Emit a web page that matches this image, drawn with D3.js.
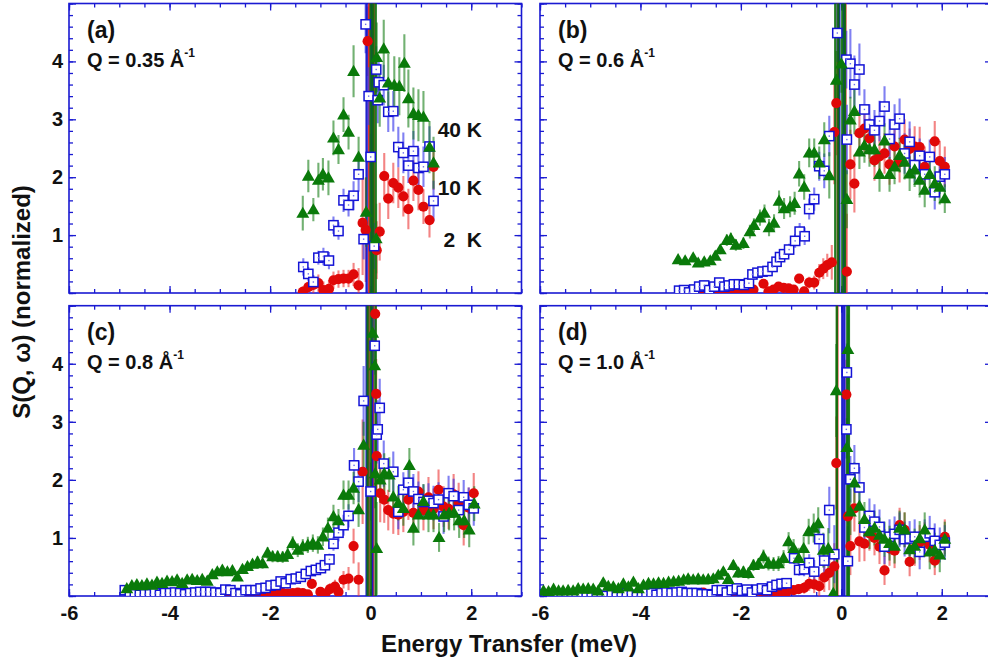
<!DOCTYPE html>
<html>
<head>
<meta charset="utf-8">
<script src="https://cdn.jsdelivr.net/npm/d3@7"></script>
<style>
  body { margin: 0; background: #fff; }
  svg text { font-family: "Liberation Sans", Arial, Helvetica, sans-serif; font-weight: bold; fill: #111; }
</style>
</head>
<body>
<svg id="chart" width="988" height="665"></svg>
<script>

// ---- data: [energy (meV), S(Q,w), error] ----
// points with S > 5 are the elastic line, off the top of the panel

const a_2K = [[-1.35,0.02,0.1],[-1.24,0.10,0.1],[-1.14,0.14,0.15],[-1.04,0.17,0.15],[-0.94,0.05,0.15],[-0.83,0.07,0.15],
  [-0.74,0.22,0.15],[-0.64,0.24,0.15],[-0.54,0.25,0.15],[-0.44,0.25,0.15],[-0.34,0.32,0.2],[-0.24,0.13,0.3],
  [-0.16,1.21,0.9],[-0.10,1.09,0.9],[-0.06,4.35,0.6],[-0.03,12,12.5],[0.06,12,12.5],[0.12,0.74,0.5],[0.18,1.06,0.5],
  [0.27,2.02,0.4],[0.35,1.63,0.35],[0.45,1.90,0.35],[0.55,1.82,0.35],[0.65,1.67,0.35],[0.75,1.45,0.35],
  [0.85,1.94,0.35],[0.95,1.78,0.35],[1.05,1.49,0.3],[1.17,1.26,0.3],[1.25,2.18,0.4]];
const a_10K = [[-1.34,0.45,0.15],[-1.24,0.33,0.12],[-1.14,0.19,0.12],[-1.04,0.61,0.12],[-0.94,0.63,0.15],[-0.83,0.56,0.15],
  [-0.74,1.17,0.15],[-0.64,1.07,0.15],[-0.54,1.60,0.2],[-0.44,1.52,0.2],[-0.34,1.68,0.25],[-0.24,2.05,0.3],
  [-0.14,0.93,0.35],[-0.10,4.64,0.5],[-0.08,12,12.5],[-0.04,3.40,0.5],[0.00,2.35,0.4],[0.02,12,12.5],[0.07,0.81,0.4],
  [0.11,3.86,0.4],[0.14,3.33,0.4],[0.16,3.64,0.4],[0.26,3.59,0.35],[0.35,3.13,0.35],[0.45,3.14,0.35],
  [0.55,2.52,0.35],[0.65,2.42,0.35],[0.75,2.20,0.3],[0.85,2.45,0.35],[0.95,2.16,0.35],[1.05,2.18,0.35],
  [1.17,2.53,0.35],[1.25,1.59,0.35]];
const a_40K = [[-1.35,1.38,0.3],[-1.24,2.02,0.28],[-1.14,1.44,0.2],[-1.04,1.95,0.3],[-0.95,2.05,0.28],[-0.84,1.99,0.3],
  [-0.74,2.68,0.3],[-0.64,2.48,0.25],[-0.54,3.08,0.3],[-0.44,2.78,0.3],[-0.34,3.83,0.45],[-0.24,2.35,0.35],
  [-0.09,1.40,0.6],[0.00,12,12.5],[0.05,12,12.5],[0.10,12,12.5],[0.11,0.94,0.6],[0.12,4.07,0.6],[0.18,3.37,0.5],
  [0.26,4.22,0.5],[0.35,3.63,0.5],[0.47,3.59,0.5],[0.57,3.57,0.5],[0.67,3.97,0.5],[0.75,3.36,0.5],
  [0.85,3.10,0.45],[0.95,3.07,0.45],[1.05,3.04,0.45],[1.17,2.52,0.45],[1.25,2.25,0.45]];

const b_2K = [[-2.81,0.02,0.03],[-2.68,0.01,0.03],[-2.55,0.02,0.03],[-2.41,0.02,0.03],[-2.28,0.01,0.03],[-2.15,0.02,0.03],
  [-2.02,0.02,0.03],[-1.88,0.03,0.04],[-1.75,0.06,0.04],[-1.55,0.16,0.05],[-1.45,0.03,0.05],[-1.35,0.06,0.05],
  [-1.25,0.11,0.05],[-1.15,0.09,0.05],[-1.05,0.08,0.05],[-0.95,0.06,0.06],[-0.84,0.25,0.08],[-0.74,0.03,0.08],
  [-0.64,0.18,0.1],[-0.54,0.18,0.12],[-0.44,0.35,0.15],[-0.36,0.42,0.18],[-0.28,0.48,0.2],[-0.19,0.53,0.3],
  [-0.14,2.78,0.9],[-0.10,3.28,0.9],[-0.07,12,12.5],[0.08,12,12.5],[0.11,0.37,1.0],[0.18,2.22,0.6],[0.26,1.89,0.5],
  [0.36,2.76,0.4],[0.46,2.84,0.4],[0.56,2.67,0.35],[0.66,2.29,0.35],[0.76,2.36,0.35],[0.86,2.41,0.35],
  [0.96,2.22,0.35],[1.06,2.53,0.35],[1.16,2.26,0.35],[1.26,2.65,0.35],[1.36,2.49,0.35],[1.46,2.53,0.35],
  [1.56,2.52,0.35],[1.66,2.18,0.35],[1.86,2.62,0.35],[1.96,2.28,0.35],[2.06,2.18,0.35]];
const b_10K = [[-3.23,0.04,0.04],[-3.13,0.05,0.04],[-3.03,0.01,0.04],[-2.93,0.06,0.04],[-2.83,0.11,0.04],[-2.73,0.13,0.04],
  [-2.63,0.05,0.04],[-2.53,0.11,0.04],[-2.43,0.18,0.05],[-2.33,0.11,0.05],[-2.24,0.13,0.05],[-2.14,0.15,0.05],
  [-2.04,0.15,0.05],[-1.94,0.14,0.05],[-1.84,0.17,0.05],[-1.77,0.32,0.06],[-1.67,0.35,0.06],[-1.57,0.37,0.06],
  [-1.47,0.38,0.07],[-1.37,0.45,0.07],[-1.29,0.54,0.08],[-1.22,0.62,0.08],[-1.14,0.67,0.09],[-1.04,0.75,0.1],
  [-0.92,0.90,0.12],[-0.83,1.06,0.15],[-0.73,0.98,0.15],[-0.64,1.45,0.18],[-0.54,1.62,0.2],[-0.44,2.19,0.25],
  [-0.34,2.11,0.3],[-0.24,2.71,0.35],[-0.08,4.49,0.5],[-0.04,12,12.5],[0.05,12,12.5],[0.10,4.03,0.5],[0.11,2.65,0.6],
  [0.18,3.96,0.6],[0.26,3.60,0.5],[0.36,3.86,0.45],[0.46,3.17,0.35],[0.56,2.91,0.35],[0.66,2.81,0.35],
  [0.76,2.97,0.35],[0.86,3.22,0.35],[0.96,2.66,0.35],[1.06,2.91,0.35],[1.16,3.01,0.35],[1.26,2.41,0.35],
  [1.36,2.61,0.35],[1.46,2.21,0.3],[1.56,2.37,0.3],[1.66,2.05,0.3],[1.76,2.35,0.3],[1.86,1.74,0.3],
  [1.96,2.01,0.3],[2.06,2.05,0.3]];
const b_40K = [[-3.25,0.58,0.05],[-3.11,0.56,0.05],[-2.95,0.61,0.06],[-2.85,0.52,0.05],[-2.73,0.54,0.06],[-2.61,0.56,0.06],
  [-2.51,0.64,0.07],[-2.41,0.75,0.08],[-2.28,0.91,0.1],[-2.20,0.94,0.1],[-2.10,0.83,0.1],[-1.95,0.86,0.1],
  [-1.82,1.06,0.12],[-1.74,1.17,0.12],[-1.62,1.30,0.14],[-1.53,1.38,0.15],[-1.44,1.13,0.15],[-1.34,1.21,0.15],
  [-1.24,1.59,0.18],[-1.14,1.46,0.18],[-1.02,1.49,0.18],[-0.93,1.55,0.2],[-0.84,2.06,0.22],[-0.74,1.83,0.22],
  [-0.64,2.42,0.25],[-0.54,2.42,0.25],[-0.44,2.25,0.28],[-0.34,2.65,0.3],[-0.24,2.03,0.4],[-0.12,12,12.5],
  [-0.10,3.68,0.5],[-0.06,12,12.5],[0.00,3.96,0.5],[0.02,12,12.5],[0.07,12,12.5],[0.11,1.62,0.5],[0.18,2.99,0.4],
  [0.26,3.14,0.4],[0.36,2.44,0.3],[0.46,2.55,0.3],[0.56,2.48,0.3],[0.66,2.48,0.3],[0.76,2.05,0.3],
  [0.86,2.63,0.3],[0.96,2.05,0.3],[1.06,2.18,0.3],[1.16,2.38,0.3],[1.26,2.26,0.3],[1.36,2.06,0.3],
  [1.46,2.13,0.3],[1.56,1.95,0.3],[1.66,1.78,0.3],[1.76,2.05,0.3],[1.86,1.89,0.3],[1.96,1.83,0.3],[2.06,1.63,0.25]];

const c_2K = [[-3.35,0.01,0.03],[-3.25,0.02,0.03],[-3.15,0.01,0.03],[-3.05,0.02,0.03],[-2.95,0.01,0.03],[-2.85,0.02,0.03],
  [-2.75,0.03,0.03],[-2.65,0.01,0.03],[-2.55,0.02,0.03],[-2.45,0.03,0.04],[-2.35,0.01,0.04],[-2.25,0.02,0.04],
  [-2.15,0.03,0.04],[-2.05,0.02,0.04],[-1.95,0.04,0.04],[-1.85,0.03,0.05],[-1.75,0.05,0.05],[-1.65,0.04,0.05],
  [-1.55,0.05,0.05],[-1.45,0.06,0.05],[-1.35,0.05,0.06],[-1.25,0.03,0.06],[-1.17,0.21,0.08],[-1.00,0.07,0.08],
  [-0.91,0.03,0.1],[-0.81,0.12,0.1],[-0.71,0.16,0.12],[-0.64,0.07,0.12],[-0.54,0.28,0.15],[-0.44,0.30,0.2],
  [-0.34,0.86,0.3],[-0.24,0.28,0.3],[-0.16,2.14,0.9],[-0.04,12,12.5],[0.05,12,12.5],[0.09,4.86,0.6],[0.11,3.48,0.6],
  [0.12,2.41,0.6],[0.19,1.77,0.5],[0.27,1.66,0.4],[0.35,1.48,0.35],[0.45,1.42,0.35],[0.55,1.40,0.35],
  [0.65,1.45,0.35],[0.75,1.66,0.35],[0.85,1.43,0.35],[0.95,1.80,0.35],[1.05,1.48,0.35],[1.15,1.70,0.35],
  [1.25,1.50,0.35],[1.35,1.83,0.35],[1.45,1.54,0.35],[1.55,1.50,0.35],[1.65,1.75,0.35],[1.75,1.60,0.35],
  [1.85,1.22,0.35],[1.95,1.52,0.35],[2.05,1.77,0.35]];
const c_10K = [[-4.89,0.10,0.03],[-4.79,0.07,0.03],[-4.69,0.03,0.03],[-4.59,0.02,0.03],[-4.49,0.03,0.03],[-4.39,0.03,0.03],
  [-4.29,0.05,0.03],[-4.19,0.02,0.03],[-4.09,0.05,0.03],[-3.99,0.05,0.03],[-3.89,0.06,0.03],[-3.79,0.05,0.03],
  [-3.69,0.03,0.03],[-3.59,0.05,0.03],[-3.49,0.06,0.03],[-3.39,0.07,0.03],[-3.29,0.07,0.03],[-3.19,0.07,0.03],
  [-3.09,0.06,0.03],[-2.99,0.05,0.03],[-2.89,0.11,0.04],[-2.79,0.10,0.04],[-2.69,0.05,0.04],[-2.59,0.03,0.04],
  [-2.49,0.10,0.04],[-2.39,0.10,0.04],[-2.29,0.10,0.04],[-2.19,0.13,0.04],[-2.09,0.14,0.05],[-1.99,0.18,0.05],
  [-1.89,0.19,0.05],[-1.79,0.25,0.05],[-1.69,0.22,0.05],[-1.59,0.29,0.06],[-1.49,0.30,0.06],[-1.39,0.33,0.06],
  [-1.29,0.38,0.07],[-1.19,0.43,0.07],[-1.09,0.45,0.08],[-0.99,0.48,0.08],[-0.91,0.53,0.09],[-0.82,0.63,0.1],
  [-0.74,0.90,0.12],[-0.64,1.09,0.15],[-0.54,1.22,0.18],[-0.44,1.38,0.2],[-0.33,2.25,0.3],[-0.24,1.97,0.35],
  [-0.14,3.36,0.6],[-0.08,12,12.5],[0.00,1.80,0.5],[0.03,12,12.5],[0.08,4.31,0.5],[0.12,2.78,0.5],[0.14,2.87,0.5],
  [0.18,3.24,0.5],[0.26,2.28,0.4],[0.45,2.14,0.35],[0.55,1.45,0.3],[0.65,1.83,0.3],[0.75,1.95,0.3],
  [0.85,1.80,0.3],[0.95,1.67,0.3],[1.05,1.62,0.3],[1.15,1.64,0.3],[1.25,1.60,0.3],[1.35,1.66,0.3],
  [1.45,1.37,0.3],[1.55,1.77,0.3],[1.65,1.72,0.3],[1.75,1.48,0.3],[1.85,1.70,0.3],[1.95,1.57,0.3],[2.05,1.51,0.3]];
const c_40K = [[-4.85,0.13,0.05],[-4.75,0.18,0.05],[-4.65,0.20,0.05],[-4.55,0.18,0.05],[-4.45,0.21,0.05],[-4.35,0.19,0.05],
  [-4.25,0.24,0.05],[-4.15,0.22,0.05],[-4.05,0.26,0.05],[-3.95,0.25,0.05],[-3.85,0.28,0.05],[-3.75,0.22,0.05],
  [-3.65,0.28,0.05],[-3.55,0.29,0.05],[-3.45,0.27,0.05],[-3.35,0.29,0.06],[-3.25,0.26,0.06],[-3.15,0.37,0.06],
  [-3.05,0.42,0.06],[-2.95,0.45,0.07],[-2.85,0.42,0.07],[-2.75,0.44,0.07],[-2.65,0.33,0.07],[-2.55,0.46,0.08],
  [-2.45,0.51,0.08],[-2.35,0.55,0.08],[-2.25,0.59,0.09],[-2.15,0.56,0.09],[-2.05,0.74,0.1],[-1.95,0.68,0.1],
  [-1.85,0.68,0.1],[-1.75,0.67,0.1],[-1.65,0.72,0.11],[-1.55,0.91,0.12],[-1.45,0.79,0.12],[-1.35,0.85,0.13],
  [-1.25,0.88,0.14],[-1.15,0.91,0.15],[-1.05,0.88,0.15],[-0.95,1.02,0.16],[-0.85,1.17,0.18],[-0.74,1.37,0.2],
  [-0.64,1.30,0.2],[-0.54,1.74,0.25],[-0.44,1.74,0.25],[-0.34,1.86,0.28],[-0.24,1.49,0.3],[-0.14,2.60,0.4],
  [-0.06,12,12.5],[0.00,12,12.5],[0.04,4.53,0.5],[0.08,3.97,0.5],[0.09,2.11,0.6],[0.10,12,12.5],[0.12,0.82,0.8],
  [0.19,2.00,0.4],[0.27,2.11,0.35],[0.37,2.09,0.3],[0.45,1.71,0.3],[0.55,1.60,0.3],[0.65,1.51,0.3],
  [0.77,2.25,0.3],[0.85,1.17,0.3],[0.95,1.40,0.3],[1.05,1.63,0.3],[1.15,1.40,0.3],[1.25,1.40,0.3],
  [1.36,1.01,0.25],[1.46,1.40,0.3],[1.56,1.43,0.3],[1.66,1.43,0.3],[1.76,1.30,0.3],[1.86,1.30,0.3],
  [1.96,1.14,0.3],[2.06,1.59,0.3]];

const d_2K = [[-5.85,0.00,0.03],[-5.55,0.01,0.03],[-5.25,0.00,0.03],[-4.95,0.01,0.03],[-4.65,0.00,0.03],[-4.35,0.01,0.03],
  [-4.05,0.01,0.03],[-3.75,0.02,0.03],[-3.45,0.01,0.03],[-3.15,0.02,0.03],[-2.95,0.02,0.03],[-2.75,0.06,0.04],
  [-2.55,0.01,0.04],[-2.35,0.02,0.04],[-2.15,0.02,0.04],[-1.95,0.03,0.04],[-1.75,0.02,0.04],[-1.55,0.04,0.05],
  [-1.35,0.03,0.05],[-1.25,0.05,0.05],[-1.15,0.04,0.05],[-1.09,0.07,0.06],[-0.95,0.10,0.07],[-0.85,0.12,0.08],
  [-0.74,0.14,0.1],[-0.64,0.21,0.12],[-0.54,0.20,0.15],[-0.44,0.17,0.2],[-0.34,0.32,0.25],[-0.24,0.40,0.3],
  [-0.14,0.51,0.4],[-0.10,2.29,0.8],[-0.08,12,12.5],[0.10,3.47,0.6],[0.13,1.37,0.6],[0.18,0.86,0.5],
  [0.26,1.51,0.4],[0.36,0.94,0.35],[0.46,0.90,0.3],[0.56,1.08,0.3],[0.66,1.00,0.3],[0.76,0.85,0.3],
  [0.86,0.44,0.25],[0.96,0.82,0.3],[1.06,0.78,0.3],[1.16,1.22,0.3],[1.26,1.14,0.3],[1.36,0.59,0.25],
  [1.46,0.82,0.3],[1.56,0.92,0.3],[1.66,0.97,0.3],[1.76,0.88,0.3],[1.86,0.61,0.25],[2.06,1.02,0.3]];
const d_10K = [[-5.87,0.02,0.03],[-5.77,0.00,0.03],[-5.67,0.00,0.03],[-5.57,0.02,0.03],[-5.47,0.02,0.03],[-5.37,0.00,0.03],
  [-5.27,0.00,0.03],[-5.17,0.00,0.03],[-5.07,0.02,0.03],[-4.97,0.02,0.03],[-4.87,0.02,0.03],[-4.77,0.00,0.03],
  [-4.67,0.00,0.03],[-4.57,0.02,0.03],[-4.47,0.02,0.03],[-4.37,0.00,0.03],[-4.27,0.05,0.03],[-4.17,0.02,0.03],
  [-4.07,0.00,0.03],[-3.97,0.02,0.03],[-3.88,0.05,0.03],[-3.78,0.05,0.03],[-3.68,0.02,0.03],[-3.58,0.05,0.03],
  [-3.48,0.06,0.03],[-3.38,0.05,0.03],[-3.28,0.06,0.03],[-3.18,0.07,0.03],[-3.08,0.05,0.03],[-2.98,0.05,0.03],
  [-2.88,0.05,0.03],[-2.78,0.03,0.03],[-2.68,0.03,0.03],[-2.58,0.02,0.03],[-2.48,0.10,0.04],[-2.38,0.10,0.04],
  [-2.28,0.06,0.04],[-2.18,0.10,0.04],[-2.08,0.13,0.04],[-1.98,0.09,0.04],[-1.88,0.11,0.04],[-1.78,0.06,0.04],
  [-1.68,0.11,0.05],[-1.58,0.13,0.05],[-1.48,0.10,0.05],[-1.38,0.16,0.05],[-1.29,0.19,0.06],[-1.19,0.21,0.06],
  [-1.09,0.22,0.07],[-0.94,0.65,0.1],[-0.84,0.45,0.1],[-0.74,0.46,0.12],[-0.64,0.57,0.15],[-0.54,0.42,0.2],
  [-0.44,0.98,0.3],[-0.34,0.61,0.3],[-0.24,1.48,0.4],[-0.14,0.72,0.5],[0.02,12,12.5],[0.06,12,12.5],
  [0.10,2.87,0.5],[0.11,3.85,0.5],[0.13,0.60,0.6],[0.18,2.01,0.4],[0.26,2.20,0.4],[0.36,1.87,0.35],
  [0.46,1.18,0.3],[0.56,1.38,0.3],[0.66,1.28,0.3],[0.76,1.19,0.3],[0.86,0.85,0.3],[0.96,1.02,0.3],
  [1.06,1.07,0.3],[1.16,1.14,0.3],[1.26,0.98,0.3],[1.36,0.99,0.3],[1.46,1.02,0.3],[1.56,0.76,0.3],
  [1.66,1.02,0.3],[1.76,1.08,0.3],[1.86,0.95,0.3],[1.96,0.88,0.3],[2.06,0.92,0.3]];
const d_40K = [[-5.93,0.09,0.04],[-5.83,0.08,0.04],[-5.73,0.12,0.04],[-5.63,0.09,0.04],[-5.54,0.09,0.04],[-5.44,0.10,0.04],
  [-5.34,0.09,0.04],[-5.24,0.13,0.04],[-5.14,0.12,0.04],[-5.04,0.13,0.04],[-4.94,0.12,0.04],[-4.84,0.09,0.05],
  [-4.74,0.23,0.05],[-4.64,0.17,0.05],[-4.54,0.16,0.05],[-4.44,0.13,0.05],[-4.34,0.21,0.05],[-4.24,0.16,0.05],
  [-4.14,0.24,0.05],[-4.04,0.13,0.05],[-3.94,0.19,0.05],[-3.84,0.22,0.05],[-3.74,0.21,0.05],[-3.64,0.23,0.05],
  [-3.54,0.22,0.05],[-3.44,0.24,0.05],[-3.34,0.25,0.05],[-3.24,0.26,0.06],[-3.14,0.28,0.06],[-3.05,0.30,0.06],
  [-2.95,0.28,0.06],[-2.85,0.30,0.06],[-2.75,0.28,0.06],[-2.65,0.29,0.07],[-2.55,0.30,0.07],[-2.45,0.36,0.07],
  [-2.35,0.42,0.08],[-2.25,0.29,0.08],[-2.15,0.53,0.09],[-2.05,0.40,0.09],[-1.95,0.42,0.09],[-1.85,0.39,0.1],
  [-1.75,0.53,0.1],[-1.65,0.55,0.1],[-1.55,0.68,0.12],[-1.45,0.56,0.12],[-1.35,0.55,0.12],[-1.25,0.56,0.13],
  [-1.15,0.65,0.14],[-1.05,0.94,0.16],[-0.95,0.82,0.16],[-0.85,0.65,0.18],[-0.75,0.82,0.2],[-0.65,1.11,0.22],
  [-0.55,1.17,0.25],[-0.46,1.25,0.28],[-0.36,0.79,0.3],[-0.26,0.82,0.35],[-0.16,0.05,0.5],[-0.10,3.54,0.8],
  [-0.09,12,12.5],[0.11,2.56,0.5],[0.12,12,12.5],[0.13,4.25,0.6],[0.15,12,12.5],[0.18,1.45,0.4],[0.26,1.95,0.35],
  [0.36,1.55,0.3],[0.46,1.32,0.3],[0.56,1.11,0.3],[0.66,1.17,0.3],[0.76,1.05,0.3],[0.86,0.98,0.3],
  [0.96,0.91,0.3],[1.06,0.86,0.3],[1.16,1.17,0.3],[1.26,1.14,0.3],[1.36,0.80,0.3],[1.46,0.86,0.3],
  [1.56,0.99,0.3],[1.66,1.14,0.3],[1.76,0.76,0.3],[1.86,0.79,0.3],[1.96,0.71,0.3],[2.06,0.98,0.3]];

const panelTags = ['(a)', '(b)', '(c)', '(d)'];
const qValues = ['0.35', '0.6', '0.8', '1.0'];
const tempLabels = ['40 K', '10 K', '2  K'];
const tempLevels = [2.7, 1.7, 0.8];
const xTickLabels = [-6, -4, -2, 0, 2];
const yTickLabels = [1, 2, 3, 4];

// ---- layout ----
const frameBlue = '#1a1ad2';
const svg = d3.select('#chart');

const panels = [
  { tag: panelTags[0], q: qValues[0], left: 69,  right: 521.5, top: 3.5,   bottom: 293, series: [a_2K, a_10K, a_40K], xLab: false, yLab: true },
  { tag: panelTags[1], q: qValues[1], left: 540, right: 992,   top: 3.5,   bottom: 293, series: [b_2K, b_10K, b_40K], xLab: false, yLab: false },
  { tag: panelTags[2], q: qValues[2], left: 69,  right: 521.5, top: 305.7, bottom: 596, series: [c_2K, c_10K, c_40K], xLab: true,  yLab: true },
  { tag: panelTags[3], q: qValues[3], left: 540, right: 992,   top: 305.7, bottom: 596, series: [d_2K, d_10K, d_40K], xLab: true,  yLab: false }
];

// order: 2 K, 10 K, 40 K
const styles = [
  { kind: 'circle',   color: '#e00808', err: 'rgba(235,50,50,0.6)',  line: 'rgba(220,20,20,0.85)' },
  { kind: 'square',   color: '#1414d6', err: 'rgba(60,60,235,0.65)', line: 'rgba(20,20,200,0.95)' },
  { kind: 'triangle', color: '#0a7a0a', err: 'rgba(20,125,20,0.6)',  line: 'rgba(10,110,10,0.9)' }
];

function styleAxis(g, size) {
  g.select('.domain').remove();
  g.selectAll('line').attr('stroke', frameBlue).attr('stroke-width', 1.3);
  g.selectAll('text').attr('font-size', size).attr('font-family', null).attr('fill', '#111');
  g.attr('font-family', null).attr('font-size', null);
}

panels.forEach((p, i) => {
  const x = d3.scaleLinear().domain([-6, 3]).range([p.left, p.right]);
  const y = d3.scaleLinear().domain([0, 5]).range([p.bottom, p.top]);

  const g = svg.append('g').attr('class', 'panel');

  const clipId = 'clip' + i;
  svg.append('clipPath').attr('id', clipId)
    .append('rect')
      .attr('x', p.left).attr('y', p.top)
      .attr('width', p.right - p.left).attr('height', p.bottom - p.top);

  const xMinor = d3.range(-6, 3.001, 0.5);
  const yMinor = d3.range(0, 5.001, 0.2);
  const yMajor = [0, 1, 2, 3, 4, 5];

  // minor ticks, all four sides (inward)
  g.append('g').attr('transform', `translate(0,${p.bottom})`)
    .call(d3.axisBottom(x).tickValues(xMinor).tickSize(-4).tickFormat(''))
    .call(a => styleAxis(a, 20));
  g.append('g').attr('transform', `translate(0,${p.top})`)
    .call(d3.axisTop(x).tickValues(xMinor).tickSize(-4).tickFormat(''))
    .call(a => styleAxis(a, 20));
  g.append('g').attr('transform', `translate(${p.left},0)`)
    .call(d3.axisLeft(y).tickValues(yMinor).tickSize(-4).tickFormat(''))
    .call(a => styleAxis(a, 20));
  g.append('g').attr('transform', `translate(${p.right},0)`)
    .call(d3.axisRight(y).tickValues(yMinor).tickSize(-4).tickFormat(''))
    .call(a => styleAxis(a, 20));

  // major ticks
  g.append('g').attr('transform', `translate(0,${p.bottom})`)
    .call(d3.axisBottom(x).tickValues(xTickLabels).tickSize(-7).tickPadding(10)
      .tickFormat(d => p.xLab ? String(d) : ''))
    .call(a => styleAxis(a, 20));
  g.append('g').attr('transform', `translate(0,${p.top})`)
    .call(d3.axisTop(x).tickValues(xTickLabels).tickSize(-7).tickFormat(''))
    .call(a => styleAxis(a, 20));
  g.append('g').attr('transform', `translate(${p.left},0)`)
    .call(d3.axisLeft(y).tickValues(yMajor).tickSize(-7).tickPadding(6)
      .tickFormat(d => (p.yLab && yTickLabels.includes(d)) ? String(d) : ''))
    .call(a => styleAxis(a, 20));
  g.append('g').attr('transform', `translate(${p.right},0)`)
    .call(d3.axisRight(y).tickValues(yMajor).tickSize(-7).tickFormat(''))
    .call(a => styleAxis(a, 20));

  // frame
  g.append('rect')
    .attr('x', p.left).attr('y', p.top)
    .attr('width', p.right - p.left).attr('height', p.bottom - p.top)
    .attr('fill', 'none').attr('stroke', frameBlue).attr('stroke-width', 1.6);

  const plot = g.append('g').attr('clip-path', `url(#${clipId})`);

  // error bars first; the off-scale elastic points draw as solid vertical lines
  p.series.forEach((s, k) => {
    plot.append('g').selectAll('line')
      .data(s).enter().append('line')
        .attr('x1', d => x(d[0])).attr('x2', d => x(d[0]))
        .attr('y1', d => y(d[1] - d[2])).attr('y2', d => y(d[1] + d[2]))
        .attr('stroke', d => d[1] > 5 ? styles[k].line : styles[k].err)
        .attr('stroke-width', d => d[1] > 5 ? 2.4 : 2.1);
  });

  // markers
  p.series.forEach((s, k) => {
    const st = styles[k];
    const m = plot.append('g');
    const pts = s.filter(d => d[1] <= 5.2);
    if (st.kind === 'circle') {
      m.selectAll('circle').data(pts).enter().append('circle')
        .attr('cx', d => x(d[0])).attr('cy', d => y(d[1]))
        .attr('r', 5.1).attr('fill', st.color);
    } else if (st.kind === 'square') {
      m.selectAll('rect.sq').data(pts).enter().append('rect')
        .attr('class', 'sq')
        .attr('x', d => x(d[0]) - 4.6).attr('y', d => y(d[1]) - 4.6)
        .attr('width', 9.2).attr('height', 9.2)
        .attr('fill', '#fff').attr('stroke', st.color).attr('stroke-width', 1.5);
      m.selectAll('rect.dot').data(pts).enter().append('rect')
        .attr('class', 'dot')
        .attr('x', d => x(d[0]) - 0.7).attr('y', d => y(d[1]) - 0.7)
        .attr('width', 1.4).attr('height', 1.4)
        .attr('fill', '#6a6af0');
    } else {
      const tri = d3.symbol().type(d3.symbolTriangle).size(72);
      m.selectAll('path').data(pts).enter().append('path')
        .attr('d', tri)
        .attr('transform', d => `translate(${x(d[0])},${y(d[1]) + 1})`)
        .attr('fill', st.color);
    }
  });

  // panel labels
  g.append('text')
    .attr('x', p.left + 18).attr('y', p.top + 34)
    .attr('font-size', 23)
    .text(p.tag);
  const q = g.append('text')
    .attr('x', p.left + 18).attr('y', p.top + 63)
    .attr('font-size', 20);
  q.append('tspan').text('Q = ' + p.q + ' Å');
  q.append('tspan').attr('font-size', 12).attr('dy', -10).text('-1');

  // temperature labels in panel (a)
  if (i === 0) {
    g.selectAll('text.temp')
      .data(tempLabels).enter().append('text')
        .attr('class', 'temp')
        .attr('x', 482)
        .attr('y', (d, j) => y(tempLevels[j]))
        .attr('text-anchor', 'end')
        .attr('font-size', 21)
        .style('white-space', 'pre')
        .text(d => d);
  }
});

// axis titles
svg.append('text')
  .attr('x', 509).attr('y', 652)
  .attr('text-anchor', 'middle')
  .attr('font-size', 24)
  .text('Energy Transfer (meV)');

svg.append('text')
  .attr('transform', 'translate(30,302) rotate(-90)')
  .attr('text-anchor', 'middle')
  .attr('font-size', 24)
  .text('S(Q, ω) (normalized)');

</script>
</body>
</html>
